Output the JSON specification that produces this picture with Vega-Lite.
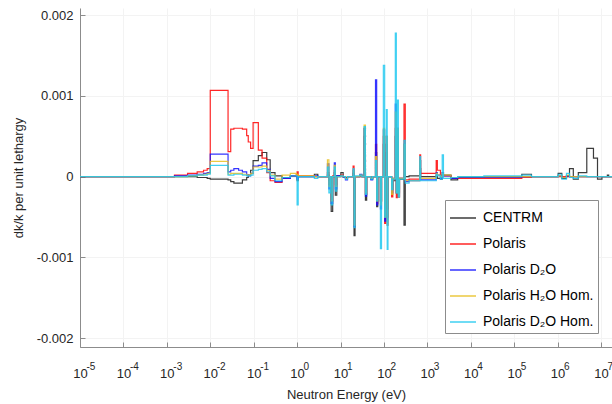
{
  "$schema": "https://vega.github.io/schema/vega-lite/v6.json",
  "width": 532,
  "height": 339,
  "autosize": {"type": "none"},
  "padding": {"left": 80, "top": 8, "right": 0, "bottom": 57},
  "background": "white",
  "config": {
    "font": "Liberation Sans",
    "view": {"stroke": null},
    "axis": {
      "domainColor": "#8c8c8c",
      "tickColor": "#8c8c8c",
      "labelColor": "#262626",
      "titleColor": "#262626",
      "labelFontSize": 13,
      "titleFontSize": 13,
      "titleFontWeight": "normal",
      "gridColor": "#f3f3f3",
      "gridWidth": 1
    }
  },
  "data": {
    "values": [
      {"E": 1e-5, "C": 0, "P": 0, "D": 0, "H": 0, "X": 0},
      {"E": 0.0015, "C": 0, "P": 0.00002, "D": 0.00001, "H": 0, "X": 0},
      {"E": 0.003, "C": 0, "P": 0.00004, "D": 0.00002, "H": 0.00001, "X": 0.00001},
      {"E": 0.005, "C": -0.00001, "P": 0.00006, "D": 0.00003, "H": 0.00002, "X": 0.00002},
      {"E": 0.007, "C": -0.00001, "P": 0.00008, "D": 0.00004, "H": 0.00003, "X": 0.00002},
      {"E": 0.0085, "C": -0.00002, "P": 0.0001, "D": 0.00005, "H": 0.00004, "X": 0.00003},
      {"E": 0.01, "C": -0.00003, "P": 0.00107, "D": 0.00028, "H": 0.00019, "X": 0.00014},
      {"E": 0.0257, "C": -0.00004, "P": 0.00031, "D": 0.00006, "H": 0.00003, "X": 0.00002},
      {"E": 0.0296, "C": -0.00006, "P": 0.00059, "D": 0.00008, "H": 0.00004, "X": 0.00002},
      {"E": 0.035, "C": -0.00008, "P": 0.0006, "D": 0.0001, "H": 0.00004, "X": 0.00003},
      {"E": 0.045, "C": -0.00008, "P": 0.0006, "D": 0.00008, "H": 0.00004, "X": 0.00003},
      {"E": 0.055, "C": -0.00004, "P": 0.00059, "D": 0.00006, "H": 0.00003, "X": 0.00002},
      {"E": 0.069, "C": -0.00001, "P": 0.00051, "D": 0.00002, "H": 0.00002, "X": 0.00001},
      {"E": 0.075, "C": 0.00002, "P": 0.00043, "D": 0.00001, "H": 0.00002, "X": 0.00001},
      {"E": 0.085, "C": 0.00008, "P": 0.00035, "D": 0.00004, "H": 0.00004, "X": 0.00002},
      {"E": 0.097, "C": 0.0002, "P": 0.00067, "D": 0.00013, "H": 0.00012, "X": 0.00008},
      {"E": 0.128, "C": 0.00026, "P": 0.00033, "D": 0.00014, "H": 0.00012, "X": 0.00009},
      {"E": 0.156, "C": 0.0003, "P": 0.00023, "D": 0.00017, "H": 0.00013, "X": 0.0001},
      {"E": 0.2, "C": 0.00021, "P": 0.00005, "D": 0.00009, "H": 0.00008, "X": 0.00006},
      {"E": 0.24, "C": 0.00005, "P": -0.00005, "D": -0.00002, "H": 0.00002, "X": 0.00001},
      {"E": 0.31, "C": 0.00001, "P": -0.00007, "D": -0.00006, "H": -0.00003, "X": -0.00005},
      {"E": 0.45, "C": -0.00001, "P": -0.00002, "D": -0.00002, "H": 0.00002, "X": -0.00001},
      {"E": 0.7, "C": 0.00001, "P": 0.00001, "D": 0.00001, "H": 0.00004, "X": 0.00001},
      {"E": 0.96, "C": 0.00002, "P": 0.00002, "D": 0.00001, "H": 0.00002, "X": 0.00001},
      {"E": 1.0, "C": -0.00005, "P": 0.00006, "D": -0.00003, "H": 0.00003, "X": -0.00035},
      {"E": 1.06, "C": 0, "P": 0.00001, "D": 0, "H": 0.00001, "X": 0},
      {"E": 2.5, "C": 0.00003, "P": 0, "D": 0.00001, "H": 0, "X": -0.00002},
      {"E": 3.0, "C": 0, "P": 0, "D": 0, "H": 0, "X": 0},
      {"E": 5.0, "C": 0.00002, "P": 0.00005, "D": 0.00016, "H": 0.00021, "X": 0.00012},
      {"E": 5.4, "C": -0.00005, "P": -0.0001, "D": -0.00015, "H": -0.00012, "X": -0.0002},
      {"E": 5.8, "C": 0, "P": 0, "D": 0, "H": 0, "X": 0},
      {"E": 6.1, "C": -0.00043, "P": -0.0003, "D": -0.00033, "H": -0.0003, "X": -0.00035},
      {"E": 6.6, "C": 0, "P": 0.00001, "D": 0, "H": 0, "X": 0},
      {"E": 7.2, "C": 0.00005, "P": 0.00008, "D": 0.00017, "H": 0.00014, "X": 0.00012},
      {"E": 7.6, "C": -0.00023, "P": -0.0001, "D": -0.00015, "H": -0.00012, "X": -0.00018},
      {"E": 8.2, "C": 0.00001, "P": 0, "D": 0.00001, "H": 0, "X": 0},
      {"E": 10.2, "C": 0.00005, "P": 0.00002, "D": 0.00001, "H": 0.00001, "X": 0.00001},
      {"E": 11.5, "C": 0, "P": 0, "D": -0.00001, "H": 0, "X": 0},
      {"E": 13, "C": -0.00001, "P": -0.00002, "D": -0.00004, "H": -0.00002, "X": -0.00003},
      {"E": 14.5, "C": 0, "P": 0, "D": 0, "H": 0, "X": 0},
      {"E": 19.5, "C": 0.00004, "P": 0.00013, "D": 0.00008, "H": 0.00008, "X": 0.0001},
      {"E": 20.5, "C": -0.00073, "P": -0.0006, "D": -0.00062, "H": -0.0006, "X": -0.00063},
      {"E": 21.6, "C": 0, "P": 0, "D": 0, "H": 0, "X": 0.00001},
      {"E": 28, "C": 0.00002, "P": 0.00001, "D": 0.00003, "H": 0.00002, "X": 0.00002},
      {"E": 31, "C": 0, "P": 0, "D": 0, "H": 0, "X": 0},
      {"E": 35, "C": 0.0005, "P": 0.0006, "D": 0.0006, "H": 0.00064, "X": 0.00062},
      {"E": 37.5, "C": -0.00029, "P": -0.00022, "D": -0.00024, "H": -0.0002, "X": -0.00022},
      {"E": 40, "C": 0, "P": 0, "D": 0, "H": 0, "X": 0},
      {"E": 50, "C": -0.00003, "P": -0.00002, "D": -0.00004, "H": -0.00002, "X": -0.00003},
      {"E": 55, "C": 0, "P": 0, "D": 0, "H": 0, "X": 0},
      {"E": 64, "C": 0.0003, "P": 0.0004, "D": 0.0012, "H": 0.00025, "X": 0.0002},
      {"E": 68, "C": -0.00037, "P": -0.00033, "D": -0.00035, "H": -0.0003, "X": -0.0003},
      {"E": 72, "C": 0, "P": 0, "D": 0, "H": 0, "X": 0},
      {"E": 83, "C": -0.0003, "P": -0.0003, "D": -0.0004, "H": -0.00035, "X": -0.00089},
      {"E": 88, "C": 0, "P": 0, "D": 0, "H": 0, "X": 0},
      {"E": 97, "C": 0.0004, "P": 0.0005, "D": 0.00058, "H": 0.0006, "X": 0.00138},
      {"E": 104, "C": -0.0004, "P": -0.00058, "D": -0.00055, "H": -0.0005, "X": -0.0005},
      {"E": 110, "C": 0, "P": 0, "D": 0, "H": 0, "X": 0},
      {"E": 114, "C": 0.0003, "P": 0.0004, "D": 0.0005, "H": 0.0005, "X": 0.00083},
      {"E": 119, "C": -0.0004, "P": -0.0005, "D": -0.0006, "H": -0.0006, "X": -0.0009},
      {"E": 124, "C": 0, "P": 0, "D": 0, "H": 0, "X": 0},
      {"E": 150, "C": -0.00016, "P": -0.00025, "D": -0.0002, "H": -0.00022, "X": -0.00016},
      {"E": 160, "C": -0.00005, "P": -0.00003, "D": -0.00002, "H": -0.00002, "X": -0.00003},
      {"E": 183, "C": 0.0005, "P": 0.0006, "D": 0.0009, "H": 0.0008, "X": 0.00178},
      {"E": 193, "C": -0.0002, "P": -0.00026, "D": -0.0002, "H": -0.0002, "X": -0.0002},
      {"E": 203, "C": 0.0004, "P": 0.0005, "D": 0.0006, "H": 0.0006, "X": 0.00095},
      {"E": 215, "C": -0.0002, "P": -0.00025, "D": -0.00025, "H": -0.00025, "X": -0.00025},
      {"E": 228, "C": -0.00003, "P": -0.00002, "D": -0.00002, "H": -0.00002, "X": -0.00003},
      {"E": 290, "C": -0.0006, "P": 0.0009, "D": 0.0004, "H": 0.0004, "X": 0.00045},
      {"E": 310, "C": 0, "P": -0.00004, "D": -0.00006, "H": -0.00005, "X": -0.00008},
      {"E": 380, "C": 0.00001, "P": -0.00003, "D": -0.00005, "H": -0.00005, "X": -0.00005},
      {"E": 670, "C": 0.0001, "P": 0.00027, "D": 0.0002, "H": 0.0002, "X": 0.00025},
      {"E": 700, "C": 0, "P": 0.00004, "D": -0.00004, "H": -0.00002, "X": -0.00005},
      {"E": 1600, "C": 0.00001, "P": 0.0002, "D": 0.00005, "H": 0.00004, "X": 0.00003},
      {"E": 1700, "C": -0.00002, "P": 0.00008, "D": 0.00002, "H": 0.00002, "X": 0.00001},
      {"E": 2000, "C": -0.00003, "P": 0.00002, "D": -0.00002, "H": 0, "X": -0.00003},
      {"E": 2200, "C": 0.00002, "P": 0.00005, "D": 0.00005, "H": 0.00004, "X": 0.00027},
      {"E": 2350, "C": 0.00002, "P": 0.00001, "D": 0.00001, "H": 0.00002, "X": -0.00002},
      {"E": 3500, "C": -0.00004, "P": -0.00002, "D": -0.00002, "H": -0.00001, "X": -0.00001},
      {"E": 5000, "C": -0.00001, "P": -0.00002, "D": -0.00001, "H": 0, "X": 0},
      {"E": 20000, "C": 0, "P": -0.00002, "D": -0.00001, "H": 0, "X": 0.00001},
      {"E": 150000, "C": 0.00003, "P": -0.00001, "D": 0, "H": 0, "X": 0.00002},
      {"E": 250000, "C": 0, "P": 0, "D": 0, "H": 0, "X": 0},
      {"E": 1030000, "C": 0.00004, "P": 0, "D": 0.00001, "H": 0.00001, "X": 0.00003},
      {"E": 1250000, "C": -0.00002, "P": 0, "D": -0.00001, "H": -0.00001, "X": -0.00003},
      {"E": 1600000, "C": 0.00001, "P": 0, "D": 0.00001, "H": 0.00002, "X": 0.00004},
      {"E": 1880000, "C": 0.0001, "P": 0, "D": 0, "H": 0, "X": -0.00001},
      {"E": 2300000, "C": -0.00003, "P": 0, "D": 0, "H": 0, "X": -0.00002},
      {"E": 3000000, "C": 0.00005, "P": 0, "D": 0, "H": 0, "X": 0.00001},
      {"E": 4700000, "C": 0.00035, "P": 0, "D": 0, "H": 0, "X": 0},
      {"E": 6700000, "C": 0.00023, "P": 0, "D": 0, "H": 0, "X": 0},
      {"E": 8300000, "C": -0.00003, "P": 0, "D": 0, "H": 0, "X": 0},
      {"E": 10500000, "C": 0, "P": 0, "D": 0, "H": 0, "X": 0},
      {"E": 14000000, "C": 0.00002, "P": 0, "D": 0, "H": 0, "X": 0},
      {"E": 15000000, "C": 0, "P": 0, "D": 0, "H": 0, "X": 0},
      {"E": 17900000, "C": 0, "P": 0, "D": 0, "H": 0, "X": 0}
    ]
  },
  "transform": [
    {"fold": ["C", "P", "D", "H", "X"], "as": ["series", "v"]}
  ],
  "layer": [
    {
      "transform": [{"filter": "datum.series != 'X'"}],
      "mark": {"type": "line", "interpolate": "step-after", "strokeWidth": 1.2, "opacity": 0.85, "clip": true},
      "encoding": {
        "x": {
          "field": "E",
          "type": "quantitative",
          "scale": {"type": "log", "domain": [1e-5, 17900000], "nice": false},
          "axis": {
            "orient": "bottom",
            "title": "Neutron Energy (eV)",
            "values": [1e-5, 1e-4, 1e-3, 1e-2, 1e-1, 1, 10, 100, 1000, 10000, 100000, 1000000, 10000000],
            "labelExpr": "'10'",
            "labelFlush": false,
            "labelOverlap": false,
            "tickSize": -5,
            "labelPadding": 25,
            "titlePadding": 8,
            "grid": true
          }
        },
        "y": {
          "field": "v",
          "type": "quantitative",
          "scale": {"domain": [-0.00211, 0.00209], "nice": false, "zero": false},
          "axis": {
            "title": "dk/k per unit lethargy",
            "values": [-0.002, -0.001, 0, 0.001, 0.002],
            "labelExpr": "'' + datum.value",
            "tickSize": -5,
            "labelPadding": 12,
            "titlePadding": 11,
            "grid": true
          }
        },
        "color": {
          "field": "series",
          "type": "nominal",
          "scale": {
            "domain": ["C", "P", "D", "H", "X"],
            "range": ["#1a1a1a", "#ff0000", "#1010ff", "#e8c020", "#1ec8f0"]
          },
          "legend": {
            "title": null,
            "orient": "none",
            "legendX": 365,
            "legendY": 192,
            "direction": "vertical",
            "labelExpr": "{'C':'CENTRM','P':'Polaris','D':'Polaris D₂O','H':'Polaris H₂O Hom.','X':'Polaris D₂O Hom.'}[datum.value]",
            "symbolType": "stroke",
            "symbolSize": 676,
            "symbolStrokeWidth": 1.5,
            "symbolOpacity": 0.7,
            "labelFontSize": 14,
            "labelColor": "#000000",
            "labelOffset": 6,
            "rowPadding": 5,
            "padding": 4,
            "fillColor": "white",
            "strokeColor": "#8c8c8c",
            "labelLimit": 200
          }
        }
      }
    },
    {
      "transform": [{"filter": "datum.series == 'X'"}],
      "mark": {"type": "line", "interpolate": "step-after", "strokeWidth": 1.2, "opacity": 0.85, "clip": true},
      "encoding": {
        "x": {
          "field": "E",
          "type": "quantitative",
          "scale": {"type": "log", "domain": [1e-5, 17900000], "nice": false},
          "axis": {
            "orient": "bottom",
            "title": null,
            "values": [1e-5, 1e-4, 1e-3, 1e-2, 1e-1, 1, 10, 100, 1000, 10000, 100000, 1000000, 10000000],
            "labelExpr": "'' + round(log(datum.value) / LN10)",
            "labelAlign": "left",
            "labelOffset": 6,
            "labelFontSize": 10,
            "labelFlush": false,
            "labelOverlap": false,
            "ticks": false,
            "domain": false,
            "grid": false,
            "labelPadding": 14
          }
        },
        "y": {
          "field": "v",
          "type": "quantitative",
          "scale": {"domain": [-0.00211, 0.00209], "nice": false, "zero": false}
        },
        "color": {
          "field": "series",
          "type": "nominal",
          "scale": {
            "domain": ["C", "P", "D", "H", "X"],
            "range": ["#1a1a1a", "#ff0000", "#1010ff", "#e8c020", "#1ec8f0"]
          }
        }
      }
    }
  ],
  "resolve": {"axis": {"x": "independent"}}
}
